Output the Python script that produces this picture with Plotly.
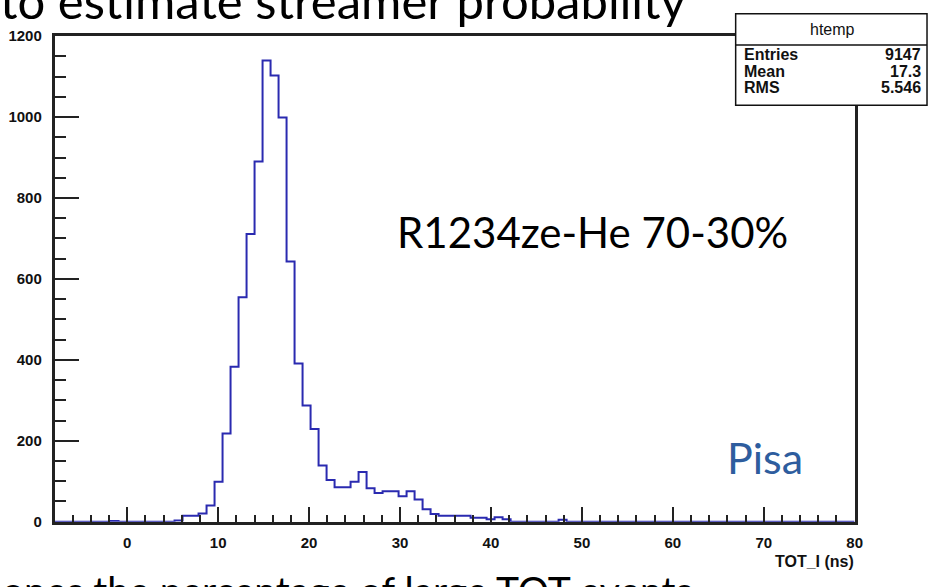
import numpy as np
import plotly.graph_objects as go

# ---- data ----
x_low = -8.0
x_high = 80.0
n_bins = 100
counts = [0, 0, 0, 0, 0, 0, 0, 2, 0, 0,
          0, 0, 0, 0, 0, 3, 15, 15, 20, 40,
          99, 218, 383, 555, 711, 890, 1140, 1103, 999, 643,
          391, 287, 229, 139, 103, 85, 85, 99, 123, 83,
          71, 75, 75, 63, 75, 55, 31, 19, 15, 15,
          15, 15, 10, 10, 6, 11, 6, 0, 0, 0,
          0, 0, 0, 5, 0, 0, 0, 0, 0, 0,
          0, 0, 0, 0, 0, 0, 0, 0, 0, 0,
          0, 0, 0, 0, 0, 0, 0, 0, 0, 0,
          0, 0, 0, 0, 0, 0, 0, 0, 0, 0]
stats_labels = ["Entries", "Mean", "RMS"]
stats_values = ["9147", "17.3", "5.546"]
hist_name = "htemp"
x_title = "TOT_I (ns)"
overlay_text = "R1234ze-He 70-30%"
site_text = "Pisa"
top_text = "to estimate streamer probability"
bottom_text = "ones the percentage of large TOT events"

W, H = 937, 587
edges = np.linspace(x_low, x_high, n_bins + 1)
xs = list(edges)
ys = list(counts) + [counts[-1]]

def px(x):
    return x / W

def py(y):
    return 1 - y / H

fig = go.Figure()
fig.add_trace(go.Scatter(x=xs, y=ys, mode="lines", line=dict(shape="hv", color="#2a2ab0", width=2),
                         hoverinfo="skip", showlegend=False, cliponaxis=True))

axis_font = dict(family="Liberation Sans, Arial", size=15, color="#111", weight="bold")
fig.update_layout(
    width=W, height=H, margin=dict(l=0, r=0, t=0, b=0),
    paper_bgcolor="white", plot_bgcolor="white",
    showlegend=False,
    xaxis=dict(domain=[px(55), px(862)], range=[x_low, x_high], tickmode="linear", tick0=0, dtick=10,
               ticks="inside", ticklen=15, tickwidth=1.5, tickcolor="#222",
               minor=dict(ticks="inside", ticklen=7, dtick=2, tick0=0, tickwidth=1.5, tickcolor="#222"),
               showline=True, linecolor="#222", linewidth=2.5, mirror=True, showgrid=False, zeroline=False,
               tickfont=axis_font, ticklabelstandoff=6, layer="above traces"),
    yaxis=dict(domain=[py(528), py(28)], range=[0, 1200], tickmode="linear", tick0=0, dtick=200,
               ticks="inside", ticklen=25, tickwidth=1.5, tickcolor="#222",
               minor=dict(ticks="inside", ticklen=12, dtick=50, tick0=0, tickwidth=1.5, tickcolor="#222"),
               showline=True, linecolor="#222", linewidth=2.5, mirror=True, showgrid=False, zeroline=False,
               tickfont=axis_font, ticklabelstandoff=7, layer="above traces"),
)

# stats box
fig.add_shape(type="rect", xref="paper", yref="paper", x0=px(742), x1=px(935), y0=py(99), y1=py(5),
              line=dict(color="#111", width=1.5), fillcolor="white", layer="above")
fig.add_shape(type="line", xref="paper", yref="paper", x0=px(742), x1=px(935), y0=py(37), y1=py(37),
              line=dict(color="#111", width=1.5), layer="above")
sfam = "Liberation Sans, Arial"
stat_font = dict(family=sfam, size=16, color="#111", weight="bold")
fig.add_annotation(xref="paper", yref="paper", x=px(840), y=py(21), text=hist_name, showarrow=False,
                   font=dict(family=sfam, size=16, color="#111"), xanchor="center", yanchor="middle")
for i, (lab, val) in enumerate(zip(stats_labels, stats_values)):
    yy = 47 + i * 17
    fig.add_annotation(xref="paper", yref="paper", x=px(748), y=py(yy), text=lab, showarrow=False,
                       font=stat_font, xanchor="left", yanchor="middle")
    fig.add_annotation(xref="paper", yref="paper", x=px(931), y=py(yy), text=val, showarrow=False,
                       font=stat_font, xanchor="right", yanchor="middle")

# axis title
fig.add_annotation(xref="paper", yref="paper", x=px(863), y=py(569), text=x_title, showarrow=False,
                   font=dict(family=sfam, size=16, color="#111", weight="bold"), xanchor="right", yanchor="middle")

# overlay texts
big_font = "Lato, Carlito, Open Sans"
fig.add_annotation(xref="paper", yref="paper", x=px(398), y=py(230), text=overlay_text, showarrow=False,
                   font=dict(family=big_font, size=42, color="black"), xanchor="left", yanchor="middle")
fig.add_annotation(xref="paper", yref="paper", x=px(731), y=py(462), text=site_text, showarrow=False,
                   font=dict(family=big_font, size=43, color="#2e5d9e"), xanchor="left", yanchor="middle")
fig.add_annotation(xref="paper", yref="paper", x=px(-2), y=py(-9), text=top_text, showarrow=False,
                   font=dict(family=big_font, size=49, color="black"), xanchor="left", yanchor="middle")
fig.add_annotation(xref="paper", yref="paper", x=px(0), y=py(598), text=bottom_text, showarrow=False,
                   font=dict(family=big_font, size=39, color="black"), xanchor="left", yanchor="middle")

fig.write_html("out.html")
